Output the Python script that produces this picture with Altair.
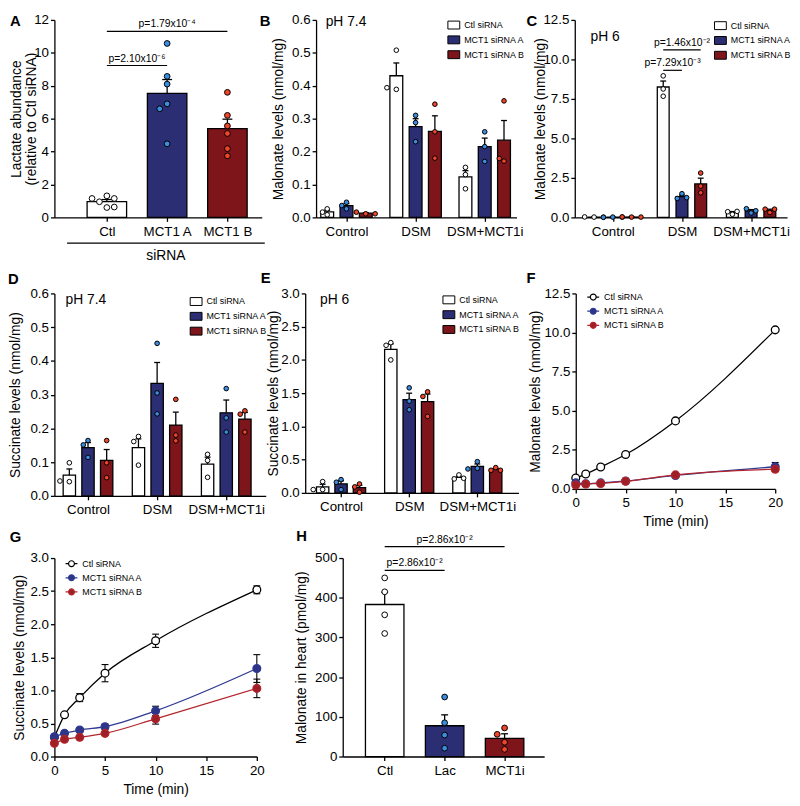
import altair as alt
import numpy as np
import pandas as pd

FONT = "Liberation Sans"
WHITE = "#ffffff"
NAVY = "#2b2e72"
DRED = "#7d151b"
PBLUE = "#3b8de0"
PRED = "#f0452b"
LBLUE = "#2e3a92"
LRED = "#b3252c"
PNAVY = "#2e3486"
PDRED = "#9e1f26"

# ---------------- data ----------------
A_CATS = ["Ctl", "MCT1 A", "MCT1 B"]
A_CTL = [1.31, 0.95, 1.15, 1.15, 0.60, 0.63]
A_MCTA = [10.57, 8.57, 8.10, 6.90, 6.60, 4.47]
A_MCTB = [7.60, 6.20, 5.56, 5.10, 4.18, 3.74]

GROUPS = ["Ctl siRNA", "MCT1 siRNA A", "MCT1 siRNA B"]
CONDS = ["Control", "DSM", "DSM+MCT1i"]

B_CTL = [[0.026, 0.008, 0.016], [0.508, 0.389, 0.394], [0.152, 0.130, 0.087]]
B_MCTA = [[0.026, 0.046, 0.036], [0.310, 0.288, 0.230], [0.260, 0.215, 0.170]]
B_MCTB = [[0.011, 0.016, 0.011], [0.344, 0.260, 0.180], [0.354, 0.171, 0.179]]

C_CTL = [[0.02, 0.03, 0.01], [8.96, 8.13, 7.67], [0.20, 0.36, 0.38]]
C_MCTA = [[0.02, 0.01, 0.02], [1.50, 1.20, 1.25], [0.28, 0.55, 0.42]]
C_MCTB = [[0.02, 0.03, 0.02], [2.81, 1.98, 1.56], [0.31, 0.52, 0.52]]

D_CTL = [[0.098, 0.042, 0.044], [0.176, 0.161, 0.091], [0.123, 0.105, 0.055]]
D_MCTA = [[0.164, 0.151, 0.114], [0.452, 0.305, 0.243], [0.318, 0.231, 0.189]]
D_MCTB = [[0.164, 0.098, 0.054], [0.286, 0.180, 0.163], [0.252, 0.242, 0.189]]

E_CTL = [[0.17, 0.05, 0.05], [2.26, 2.00, 2.22], [0.27, 0.21, 0.22]]
E_MCTA = [[0.05, 0.20, 0.16], [1.58, 1.38, 1.25], [0.47, 0.37, 0.36]]
E_MCTB = [[0.134, 0.01, 0.09], [1.52, 1.45, 1.15], [0.38, 0.34, 0.34]]

TIME = [0, 1, 2.5, 5, 10, 20]
F_CTL = [0.70, 0.95, 1.40, 2.20, 4.35, 10.17]
F_CTL_SEM = [0.05, 0.05, 0.12, 0.10, 0.10, 0.10]
F_MCTA = [0.39, 0.33, 0.39, 0.51, 0.86, 1.42]
F_MCTA_SEM = [0.05, 0.05, 0.05, 0.05, 0.05, 0.27]
F_MCTB = [0.25, 0.31, 0.35, 0.49, 0.90, 1.26]
F_MCTB_SEM = [0.05, 0.05, 0.05, 0.05, 0.05, 0.10]

G_CTL = [0.29, 0.63, 0.89, 1.26, 1.75, 2.52]
G_CTL_SEM = [0.02, 0.02, 0.06, 0.13, 0.10, 0.06]
G_MCTA = [0.30, 0.35, 0.40, 0.45, 0.69, 1.33]
G_MCTA_SEM = [0.02, 0.04, 0.03, 0.04, 0.07, 0.21]
G_MCTB = [0.20, 0.26, 0.29, 0.35, 0.57, 1.03]
G_MCTB_SEM = [0.02, 0.02, 0.02, 0.02, 0.08, 0.14]

H_CATS = ["Ctl", "Lac", "MCT1i"]
H_CTL = [450, 415, 357, 310]
H_LAC = [150, 85, 54, 21]
H_MCT = [72, 56, 36, 18]

# ---------------- layout (page px) ----------------
# plot areas of one row share a top; first-column panels share a left
GEOM = {
    "A": dict(left=52, top=12, w=210, h=200, dom=(-0.87, 2.57), frame=(5, 5, 275, 260), tx=-31),
    "B": dict(left=317, top=12, w=203, h=200, dom=(-0.44, 2.46), frame=(255, 5, 537, 260), tx=-31,
              gs=0.279, bw=13),
    "C": dict(left=579, top=12, w=215, h=200, dom=(-0.55, 2.52), frame=(517, 5, 795, 260), tx=-27.5,
              gs=0.271, bw=12),
    "D": dict(left=52, top=289, w=214, h=205, dom=(-0.486, 2.571), frame=(5, 260, 276, 527), tx=-32,
              gs=0.27, bw=12.5),
    "E": dict(left=306, top=289, w=216, h=202, dom=(-0.526, 2.604), frame=(256, 260, 537, 527), tx=-25,
              gs=0.27, bw=12.5),
    "F": dict(left=580, top=289, w=202, h=198, frame=(517, 260, 795, 527), tx=-34),
    "G": dict(left=52, top=557, w=205, h=201, frame=(5, 527, 290, 800), tx=-28.5),
    "H": dict(left=344, top=557, w=204, h=201, dom=(-0.70, 2.66), frame=(270, 527, 560, 800), tx=-34.5),
}

ONE = pd.DataFrame({"k": [0]})
LEG_RECT = "M-1,-0.667H1V0.667H-1Z"
LEG_LINE = "M-1,0H-0.5M0.5,0H1M0.5,0A0.5,0.5,0,1,1,-0.5,0A0.5,0.5,0,1,1,0.5,0Z"


def sem(v):
    v = np.asarray(v, float)
    return float(v.std(ddof=1) / np.sqrt(len(v)))


def swarm(vals, upx, d, step):
    placed, offs = [], []
    cands = [0.0]
    for i in range(1, 10):
        cands += [-i * step, i * step]
    for v in vals:
        y = v * upx
        for c in cands:
            if all((c - px) ** 2 + (y - py) ** 2 >= (0.92 * d) ** 2 for px, py in placed):
                break
        placed.append((c, y))
        offs.append(c)
    return offs


def text_layer(txt, x, y, size, weight="normal", align="left", baseline="alphabetic"):
    return alt.Chart(ONE).mark_text(
        text=txt, font=FONT, fontSize=size, fontWeight=weight, align=align,
        baseline=baseline, color="black"
    ).encode(x=alt.value(x), y=alt.value(y))


def frame_layer(key):
    # invisible box that fixes the extent of each panel for the layout
    g = GEOM[key]
    fx0, fy0, fx1, fy1 = g["frame"]
    return alt.Chart(ONE).mark_rect(opacity=0, fill="white", stroke="white").encode(
        x=alt.value(fx0 - g["left"]), x2=alt.value(fx1 - g["left"]),
        y=alt.value(fy0 - g["top"]), y2=alt.value(fy1 - g["top"]))


def yaxis(ymax, step, fmt, title, key, lh=None):
    g = GEOM[key]
    n = int(round(ymax / step))
    vals = [round(i * step, 6) for i in range(n + 1)]
    kw = dict(values=vals, tickCount=40, format=fmt, title=title, titleX=g["tx"],
              titleY=g["h"] / 2, labelFlush=False, labelOverlap=False)
    if lh:
        kw["titleLineHeight"] = lh
    return alt.Axis(**kw)


def bracket_layers(pv, xs, ys):
    pdf = pd.DataFrame(pv)
    rule = alt.Chart(pdf).mark_rule(color="black", strokeWidth=1.2).encode(
        x=alt.X("a:Q", scale=xs), x2="b:Q", y=alt.Y("y:Q", scale=ys))
    txt = alt.Chart(pdf).mark_text(font=FONT, fontSize=10.5, baseline="bottom", dy=-2,
                                   color="black").encode(
        x=alt.X("tx:Q", scale=xs), y=alt.Y("y:Q", scale=ys), text="t:N")
    return [rule, txt]


def simple_panel(key, cats, series, ymax, ystep, yfmt, ytitle, barcols, ptcols,
                 d, size, cap_px, bar_px, letter, letter_xy, pvals, lh=None, extra=None):
    g = GEOM[key]
    dmin, dmax = g["dom"]
    ppu = g["w"] / (dmax - dmin)
    upx = g["h"] / ymax
    brow, prow = [], []
    for i, (c, vals) in enumerate(zip(cats, series)):
        m = float(np.mean(vals))
        s = sem(vals)
        brow.append(dict(cat=c, x0=i - bar_px / 2 / ppu, x1=i + bar_px / 2 / ppu, zero=0.0,
                         mean=m, top=m + s, xc=float(i), cl=i - cap_px / 2 / ppu,
                         cr=i + cap_px / 2 / ppu))
        for off, v in zip(swarm(vals, upx, d, d), vals):
            prow.append(dict(cat=c, x=i + off / ppu, v=v))
    bdf, pdf = pd.DataFrame(brow), pd.DataFrame(prow)
    xs = alt.Scale(domain=[dmin, dmax], nice=False, zero=False)
    ys = alt.Scale(domain=[0, ymax], nice=False, zero=False)
    js = "[" + ",".join("'%s'" % c for c in cats) + "]"
    xaxis = alt.Axis(values=[0, 1, 2], tickCount=40, labelExpr=js + "[datum.value]", title=None,
                     labelFlush=False, labelOverlap=False, labelPadding=3)
    bars = alt.Chart(bdf).mark_rect(stroke="black", strokeWidth=1.3).encode(
        x=alt.X("x0:Q", scale=xs, axis=xaxis), x2="x1:Q",
        y=alt.Y("zero:Q", scale=ys, axis=yaxis(ymax, ystep, yfmt, ytitle, key, lh)), y2="mean:Q",
        color=alt.Color("cat:N", scale=alt.Scale(domain=cats, range=barcols), legend=None))
    err = alt.Chart(bdf).mark_rule(color="black", strokeWidth=1.3).encode(
        x=alt.X("xc:Q", scale=xs), y=alt.Y("mean:Q", scale=ys), y2="top:Q")
    cap = alt.Chart(bdf).mark_rule(color="black", strokeWidth=1.3).encode(
        x=alt.X("cl:Q", scale=xs), x2="cr:Q", y=alt.Y("top:Q", scale=ys))
    pts = alt.Chart(pdf).mark_circle(size=size, stroke="black", strokeWidth=1, opacity=1).encode(
        x=alt.X("x:Q", scale=xs), y=alt.Y("v:Q", scale=ys),
        fill=alt.Fill("cat:N", scale=alt.Scale(domain=cats, range=ptcols), legend=None))
    layers = [bars, err, cap, pts] + bracket_layers(pvals, xs, ys)
    if extra:
        layers += extra(xs, ys, g)
    layers += [text_layer(letter, letter_xy[0], letter_xy[1], 15, "bold"), frame_layer(key)]
    return alt.layer(*layers).properties(width=g["w"], height=g["h"])


def grouped_panel(key, data3, ymax, ystep, yfmt, ytitle, leg_xy, ph, ph_xy, letter, letter_xy,
                  pvals=None):
    g = GEOM[key]
    dmin, dmax = g["dom"]
    ppu = g["w"] / (dmax - dmin)
    upx = g["h"] / ymax
    d, cap_px = 5.6, 6
    brow, prow = [], []
    for gi, grp in enumerate(GROUPS):
        for ci, cond in enumerate(CONDS):
            vals = data3[gi][ci]
            ctr = ci + (gi - 1) * g["gs"]
            m = float(np.mean(vals))
            s = sem(vals)
            brow.append(dict(grp=grp, x0=ctr - g["bw"] / 2 / ppu, x1=ctr + g["bw"] / 2 / ppu,
                             zero=0.0, mean=m, top=m + s, xc=ctr,
                             cl=ctr - cap_px / 2 / ppu, cr=ctr + cap_px / 2 / ppu))
            for off, v in zip(swarm(vals, upx, d, d * 0.85), vals):
                prow.append(dict(grp=grp, x=ctr + off / ppu, v=v))
    bdf, pdf = pd.DataFrame(brow), pd.DataFrame(prow)
    xs = alt.Scale(domain=[dmin, dmax], nice=False, zero=False)
    ys = alt.Scale(domain=[0, ymax], nice=False, zero=False)
    js = "[" + ",".join("'%s'" % c for c in CONDS) + "]"
    xaxis = alt.Axis(values=[0, 1, 2], tickCount=40, labelExpr=js + "[datum.value]", title=None,
                     labelFlush=False, labelOverlap=False, labelPadding=3)
    leg = alt.Legend(orient="none", legendX=leg_xy[0], legendY=leg_xy[1], title=None,
                     symbolType=LEG_RECT, symbolSize=144, symbolStrokeColor="black",
                     symbolStrokeWidth=1, labelFont=FONT, labelFontSize=9, labelColor="black",
                     rowPadding=2, padding=0, labelOffset=4, symbolOpacity=1)
    bars = alt.Chart(bdf).mark_rect(stroke="black", strokeWidth=1.3).encode(
        x=alt.X("x0:Q", scale=xs, axis=xaxis), x2="x1:Q",
        y=alt.Y("zero:Q", scale=ys, axis=yaxis(ymax, ystep, yfmt, ytitle, key)), y2="mean:Q",
        color=alt.Color("grp:N", scale=alt.Scale(domain=GROUPS, range=[WHITE, NAVY, DRED]),
                        legend=leg))
    err = alt.Chart(bdf).mark_rule(color="black", strokeWidth=1.3).encode(
        x=alt.X("xc:Q", scale=xs), y=alt.Y("mean:Q", scale=ys), y2="top:Q")
    cap = alt.Chart(bdf).mark_rule(color="black", strokeWidth=1.3).encode(
        x=alt.X("cl:Q", scale=xs), x2="cr:Q", y=alt.Y("top:Q", scale=ys))
    pts = alt.Chart(pdf).mark_circle(size=22, stroke="black", strokeWidth=1, opacity=1).encode(
        x=alt.X("x:Q", scale=xs), y=alt.Y("v:Q", scale=ys),
        fill=alt.Fill("grp:N", scale=alt.Scale(domain=GROUPS, range=[WHITE, PBLUE, PRED]),
                      legend=None))
    layers = [bars, err, cap, pts]
    if pvals:
        layers += bracket_layers(pvals, xs, ys)
    layers += [text_layer(ph, ph_xy[0], ph_xy[1], 14),
               text_layer(letter, letter_xy[0], letter_xy[1], 15, "bold"), frame_layer(key)]
    return alt.layer(*layers).properties(width=g["w"], height=g["h"])


def time_panel(key, series, ymax, ystep, ytitle, leg_xy, letter, letter_xy):
    g = GEOM[key]
    ppu = g["w"] / 20.0
    rows = []
    for grp, vals, sems in series:
        for t, v, s in zip(TIME, vals, sems):
            rows.append(dict(grp=grp, t=t, v=v, lo=v - s, hi=v + s,
                             cl=t - 3.5 / ppu, cr=t + 3.5 / ppu))
    df = pd.DataFrame(rows)
    xs = alt.Scale(domain=[0, 20], nice=False, zero=False)
    ys = alt.Scale(domain=[0, ymax], nice=False, zero=False)
    xaxis = alt.Axis(values=[0, 5, 10, 15, 20], tickCount=40, format="d", title="Time (min)",
                     labelFlush=False, labelOverlap=False, labelPadding=3,
                     titleX=g["w"] / 2, titleY=26)
    lscale = alt.Scale(domain=GROUPS, range=["black", LBLUE, LRED])
    pscale = alt.Scale(domain=GROUPS, range=[WHITE, PNAVY, PDRED])
    leg = alt.Legend(orient="none", legendX=leg_xy[0], legendY=leg_xy[1], title=None,
                     symbolType=LEG_LINE, symbolSize=144, symbolStrokeWidth=1.2,
                     labelFont=FONT, labelFontSize=9, labelColor="black", rowPadding=1.3,
                     padding=0, labelOffset=4, symbolOpacity=1)
    line = alt.Chart(df).mark_line(strokeWidth=1.3, interpolate="monotone").encode(
        x=alt.X("t:Q", scale=xs, axis=xaxis),
        y=alt.Y("v:Q", scale=ys, axis=yaxis(ymax, ystep, ".1f", ytitle, key)),
        stroke=alt.Stroke("grp:N", scale=lscale, legend=leg))
    err = alt.Chart(df).mark_rule(color="black", strokeWidth=1.1).encode(
        x=alt.X("t:Q", scale=xs), y=alt.Y("lo:Q", scale=ys), y2="hi:Q")
    cap1 = alt.Chart(df).mark_rule(color="black", strokeWidth=1.1).encode(
        x=alt.X("cl:Q", scale=xs), x2="cr:Q", y=alt.Y("hi:Q", scale=ys))
    cap2 = alt.Chart(df).mark_rule(color="black", strokeWidth=1.1).encode(
        x=alt.X("cl:Q", scale=xs), x2="cr:Q", y=alt.Y("lo:Q", scale=ys))
    pts = alt.Chart(df).mark_point(filled=True, size=62, strokeWidth=1.3, opacity=1).encode(
        x=alt.X("t:Q", scale=xs), y=alt.Y("v:Q", scale=ys),
        fill=alt.Fill("grp:N", scale=pscale, legend=leg),
        stroke=alt.Stroke("grp:N", scale=lscale, legend=leg))
    layers = [line, err, cap1, cap2, pts,
              text_layer(letter, letter_xy[0], letter_xy[1], 15, "bold"), frame_layer(key)]
    return alt.layer(*layers).properties(width=g["w"], height=g["h"])


# ---------------- panels ----------------
def sirna_extra(xs, ys, g):
    sd = pd.DataFrame({"a": [-0.66], "b": [2.62], "m": [0.98], "lab": ["siRNA"]})
    line = alt.Chart(sd).mark_rule(color="black", strokeWidth=1.2).encode(
        x=alt.X("a:Q", scale=xs), x2="b:Q", y=alt.value(g["h"] + 26))
    txt = alt.Chart(sd).mark_text(font=FONT, fontSize=14, baseline="middle", color="black").encode(
        x=alt.X("m:Q", scale=xs), y=alt.value(g["h"] + 39), text="lab:N")
    return [line, txt]


pA = simple_panel(
    "A", A_CATS, [A_CTL, A_MCTA, A_MCTB], 12, 2, "d",
    ["Lactate abundance", "(relative to Ctl siRNA)"],
    [WHITE, NAVY, DRED], [WHITE, PBLUE, PRED], 7.5, 34, 10, 40, "A", (-45, 6.5),
    [dict(a=0, b=2, y=11.3, tx=1.0, t="p=1.79x10⁻⁴"),
     dict(a=0, b=1, y=9.23, tx=0.5, t="p=2.10x10⁻⁶")],
    lh=15, extra=sirna_extra)

pB = grouped_panel("B", [B_CTL, B_MCTA, B_MCTB], 0.6, 0.1, ".1f", "Malonate levels (nmol/mg)",
                   (133, -1.3), "pH 7.4", (9.7, 6.3), "B", (-57, 6.5))
pC = grouped_panel("C", [C_CTL, C_MCTA, C_MCTB], 12.5, 2.5, ".1f", "Malonate levels (nmol/mg)",
                   (141, -0.7), "pH 6", (16, 21.7), "C", (-49, 6.3),
                   pvals=[dict(a=0.729, b=1.271, y=10.6, tx=1.0, t="p=1.46x10⁻²"),
                          dict(a=0.729, b=1.0, y=9.31, tx=0.864, t="p=7.29x10⁻³")])
pD = grouped_panel("D", [D_CTL, D_MCTA, D_MCTB], 0.6, 0.1, ".1f", "Succinate levels (nmol/mg)",
                   (137, 1.7), "pH 7.4", (11.3, 11), "D", (-47, -10))
pE = grouped_panel("E", [E_CTL, E_MCTA, E_MCTB], 3.0, 0.5, ".1f", "Succinate levels (nmol/mg)",
                   (139, 0), "pH 6", (15, 11), "E", (-45, -11))
pF = time_panel("F", [(GROUPS[0], F_CTL, F_CTL_SEM), (GROUPS[1], F_MCTA, F_MCTA_SEM),
                      (GROUPS[2], F_MCTB, F_MCTB_SEM)],
                12.5, 2.5, "Malonate levels (nmol/mg)", (10.7, -3.3), "F", (-50, -11))
pG = time_panel("G", [(GROUPS[0], G_CTL, G_CTL_SEM), (GROUPS[1], G_MCTA, G_MCTA_SEM),
                      (GROUPS[2], G_MCTB, G_MCTB_SEM)],
                3.0, 0.5, "Succinate levels (nmol/mg)", (10.3, -1.3), "G", (-45.3, -16.3))
pH = simple_panel(
    "H", H_CATS, [H_CTL, H_LAC, H_MCT], 500, 100, "d", "Malonate in heart (pmol/mg)",
    [WHITE, NAVY, DRED], [WHITE, PBLUE, PRED], 7.5, 34, 7, 39, "H", (-47, -17),
    [dict(a=0, b=2, y=529, tx=1.0, t="p=2.86x10⁻²"),
     dict(a=0, b=1, y=469, tx=0.5, t="p=2.86x10⁻²")])

IND = dict(color="independent", fill="independent", stroke="independent")
row1 = alt.hconcat(pA, pB, pC, spacing=-20).resolve_scale(**IND).resolve_legend(**IND)
row2 = alt.hconcat(pD, pE, pF, spacing=-20).resolve_scale(**IND).resolve_legend(**IND)
row3 = alt.hconcat(pG, pH, spacing=-20).resolve_scale(**IND).resolve_legend(**IND)

chart = alt.vconcat(row1, row2, row3, spacing=0).resolve_scale(**IND).resolve_legend(
    **IND).properties(
    padding=0, background="white"
).configure_axis(
    domainColor="black", domainWidth=1.3, tickColor="black", tickWidth=1.3, tickSize=4,
    labelFont=FONT, labelFontSize=13.5, labelColor="black", titleFont=FONT, titleFontSize=14,
    titleFontWeight="normal", titleColor="black", grid=False, labelPadding=2,
    labelOverlap=False, labelFlush=False, labelBound=False
).configure_view(stroke=None)

chart.save("out.html", embed_options={"renderer": "svg", "actions": False})
